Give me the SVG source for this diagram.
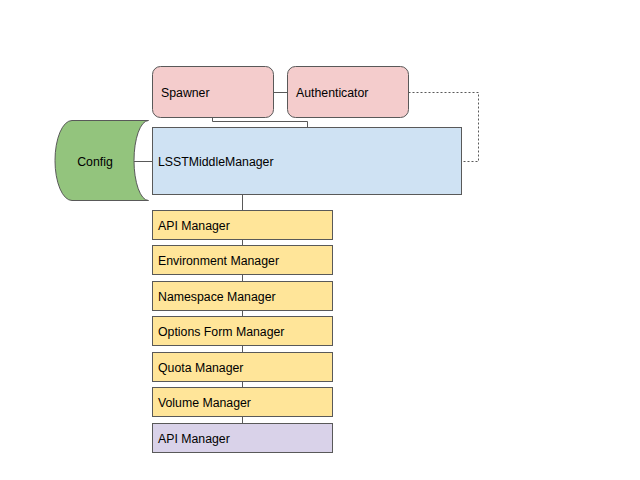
<svg xmlns="http://www.w3.org/2000/svg" width="640" height="480" viewBox="0 0 640 480">
<style>
text{font-family:"Liberation Sans",Arial,sans-serif;font-size:12.3px;fill:#000}
.n{stroke:#595959;stroke-width:1}
.pink{fill:#f4cccc}
.blue{fill:#cfe2f3}
.yel{fill:#ffe599}
.pur{fill:#d9d2e9}
.grn{fill:#93c47d}
.c{fill:none;stroke:#595959;stroke-width:1}
.d{stroke-dasharray:2,2}
</style>
<rect width="640" height="480" fill="#fff"/>
<g id="connectors">
<path class="c" d="M273.5,92.5H287.5"/>
<path class="c" d="M212.5,117V121.5H307.5V127"/>
<path class="c d" d="M408.5,92.5H478.5V161.5H461.5"/>
<path class="c" d="M134,161.5H152"/>
<path class="c" d="M242.5,194V423"/>
</g>
<g id="spawner"><rect class="n pink" x="152.5" y="66.5" width="121" height="51" rx="8"/><text x="161" y="96.5">Spawner</text></g>
<g id="authenticator"><rect class="n pink" x="287.5" y="66.5" width="121" height="51" rx="8"/><text x="296" y="96.5">Authenticator</text></g>
<g id="config"><path class="n grn" d="M72,120.5H148.5A14.5,40 0 0 0 148.5,200.5H72A17,40 0 0 1 72,120.5Z"/><text x="95" y="165.5" text-anchor="middle">Config</text></g>
<g id="lsst"><rect class="n blue" x="152.5" y="127.5" width="309" height="67"/><text x="158" y="165.5">LSSTMiddleManager</text></g>
<g id="api1"><rect class="n yel" x="152.5" y="210.5" width="180" height="29"/><text x="158" y="229.5">API Manager</text></g>
<g id="env"><rect class="n yel" x="152.5" y="245.5" width="180" height="29"/><text x="158" y="264.5">Environment Manager</text></g>
<g id="ns"><rect class="n yel" x="152.5" y="281.5" width="180" height="29"/><text x="158" y="300.5">Namespace Manager</text></g>
<g id="opt"><rect class="n yel" x="152.5" y="316.5" width="180" height="29"/><text x="158" y="335.5">Options Form Manager</text></g>
<g id="quota"><rect class="n yel" x="152.5" y="352.5" width="180" height="29"/><text x="158" y="371.5">Quota Manager</text></g>
<g id="volume"><rect class="n yel" x="152.5" y="387.5" width="180" height="29"/><text x="158" y="406.5">Volume Manager</text></g>
<g id="api2"><rect class="n pur" x="152.5" y="423.5" width="180" height="29"/><text x="158" y="442.5">API Manager</text></g>
</svg>
